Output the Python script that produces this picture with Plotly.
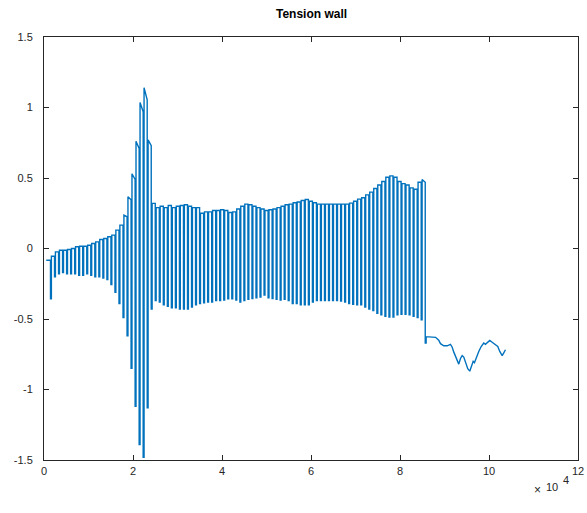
import numpy as np
import plotly.graph_objects as go

# ---------------- data ----------------
start_x, start_y = 500, -0.083          # first sample
spike_x0, spike_dx = 1460, 905.5        # spike time grid
delta = 200                             # return sample after each drop

# level the signal returns to after each drop
top = [-0.055, -0.024, -0.012, -0.012, -0.007, 0.0, 0.012, 0.016, 0.016, 0.023,
       0.035, 0.047, 0.064, 0.071, 0.083, 0.095, 0.13, 0.166, 0.237, 0.367,
       0.53, 0.76, 1.035, 1.14, 0.77, 0.32, 0.29, 0.30, 0.29, 0.305,
       0.29, 0.30, 0.305, 0.31, 0.30, 0.29, 0.29, 0.25, 0.26, 0.26,
       0.27, 0.27, 0.275, 0.27, 0.255, 0.26, 0.28, 0.30, 0.315, 0.31,
       0.30, 0.29, 0.28, 0.27, 0.275, 0.28, 0.29, 0.30, 0.31, 0.315,
       0.325, 0.33, 0.34, 0.348, 0.335, 0.325, 0.315, 0.315, 0.315, 0.315,
       0.315, 0.315, 0.315, 0.315, 0.322, 0.335, 0.35, 0.36, 0.38, 0.40,
       0.425, 0.45, 0.475, 0.505, 0.515, 0.505, 0.475, 0.46, 0.45, 0.43,
       0.42, 0.47, 0.49, -0.625]

# minimum reached in each drop
bottom = [-0.356, -0.20, -0.18, -0.17, -0.18, -0.18, -0.18, -0.19, -0.19, -0.18,
          -0.19, -0.20, -0.20, -0.21, -0.22, -0.256, -0.31, -0.39, -0.49, -0.62,
          -0.85, -1.12, -1.39, -1.48, -1.13, -0.43, -0.37, -0.38, -0.40, -0.41,
          -0.42, -0.42, -0.43, -0.43, -0.43, -0.415, -0.40, -0.39, -0.385, -0.38,
          -0.38, -0.37, -0.37, -0.365, -0.356, -0.356, -0.365, -0.38, -0.37, -0.36,
          -0.355, -0.35, -0.345, -0.33, -0.35, -0.355, -0.36, -0.365, -0.36, -0.37,
          -0.39, -0.39, -0.40, -0.40, -0.40, -0.38, -0.37, -0.37, -0.37, -0.37,
          -0.37, -0.37, -0.373, -0.38, -0.39, -0.395, -0.40, -0.40, -0.415, -0.43,
          -0.44, -0.46, -0.47, -0.48, -0.486, -0.486, -0.47, -0.467, -0.467, -0.47,
          -0.48, -0.49, -0.505, -0.67]

# level just before a drop, where it differs from the previous return level
pre_override = {0: -0.083, 19: 0.225, 20: 0.345, 21: 0.49, 22: 0.71,
                23: 0.97, 24: 1.055, 25: 0.73, 93: 0.47}

# trailing part after the last drop
tail_x = [86000, 88000, 88700, 89100, 89840, 90600, 91340, 91730, 92090, 92690,
          93210, 93590, 93970, 94330, 94710, 95230, 95680, 96060, 96440, 96730,
          97180, 97700, 98240, 98820, 99200, 99720, 100170, 100710, 101450, 101970,
          102420, 102960, 103320, 103700]
tail_y = [-0.625, -0.63, -0.65, -0.675, -0.69, -0.69, -0.68, -0.70, -0.735, -0.78,
          -0.82, -0.78, -0.76, -0.77, -0.807, -0.853, -0.87, -0.83, -0.80, -0.81,
          -0.77, -0.73, -0.695, -0.67, -0.68, -0.665, -0.652, -0.665, -0.68, -0.695,
          -0.73, -0.76, -0.74, -0.718]

x_tickvals = [0, 20000, 40000, 60000, 80000, 100000, 120000]
x_ticktext = ["0", "2", "4", "6", "8", "10", "12"]
y_tickvals = [-1.5, -1, -0.5, 0, 0.5, 1, 1.5]
y_ticktext = ["-1.5", "-1", "-0.5", "0", "0.5", "1", "1.5"]

# ---------------- build the signal path ----------------
xs, ys = [start_x], [start_y]
for k in range(len(top)):
    sx = spike_x0 + spike_dx * k
    pre = pre_override.get(k, top[k - 1] if k > 0 else start_y)
    xs += [sx, sx, sx + delta, sx + delta]
    ys += [pre, bottom[k], bottom[k], top[k]]
xs += tail_x
ys += tail_y

FONT = "Liberation Sans, Arial, Helvetica, sans-serif"
AX = "#262626"

fig = go.Figure()
fig.add_trace(go.Scatter(x=xs, y=ys, mode="lines",
                         line=dict(color="#0072BD", width=1.4),
                         hoverinfo="skip", showlegend=False))

axis_common = dict(showgrid=False, zeroline=False, showline=True, linecolor=AX,
                   linewidth=1, ticks="inside", ticklen=5, tickcolor=AX,
                   mirror="ticks", automargin=False,
                   tickfont=dict(family=FONT, size=11, color=AX))

L, R, T, B = 44, 578, 37, 460
fig.update_layout(
    width=587, height=513, autosize=False,
    margin=dict(l=L, r=587 - R, t=T, b=513 - B, autoexpand=False),
    paper_bgcolor="white", plot_bgcolor="white",
    xaxis=dict(range=[0, 120000], tickvals=x_tickvals, ticktext=x_ticktext,
               ticklabelstandoff=1, **axis_common),
    yaxis=dict(range=[-1.5, 1.5], tickvals=y_tickvals, ticktext=y_ticktext,
               ticklabelstandoff=8, **axis_common),
)


def px(xp, yp):
    return (xp - L) / (R - L), (B - yp) / (B - T)


def note(text, xp, yp, size, bold=False, color=AX):
    x, y = px(xp, yp)
    fig.add_annotation(text=f"<b>{text}</b>" if bold else text, xref="paper",
                       yref="paper", x=x, y=y, xanchor="center", yanchor="middle",
                       showarrow=False, font=dict(family=FONT, size=size, color=color))


note("Tension wall", 311, 14, 12, bold=True, color="black")
note("×", 537, 490, 12)
note("10", 552, 487, 11)
note("4", 566, 480, 11)

fig.write_html("out.html", config={"displayModeBar": False},
               post_script="document.body.style.margin='0';document.body.style.padding='0';")
